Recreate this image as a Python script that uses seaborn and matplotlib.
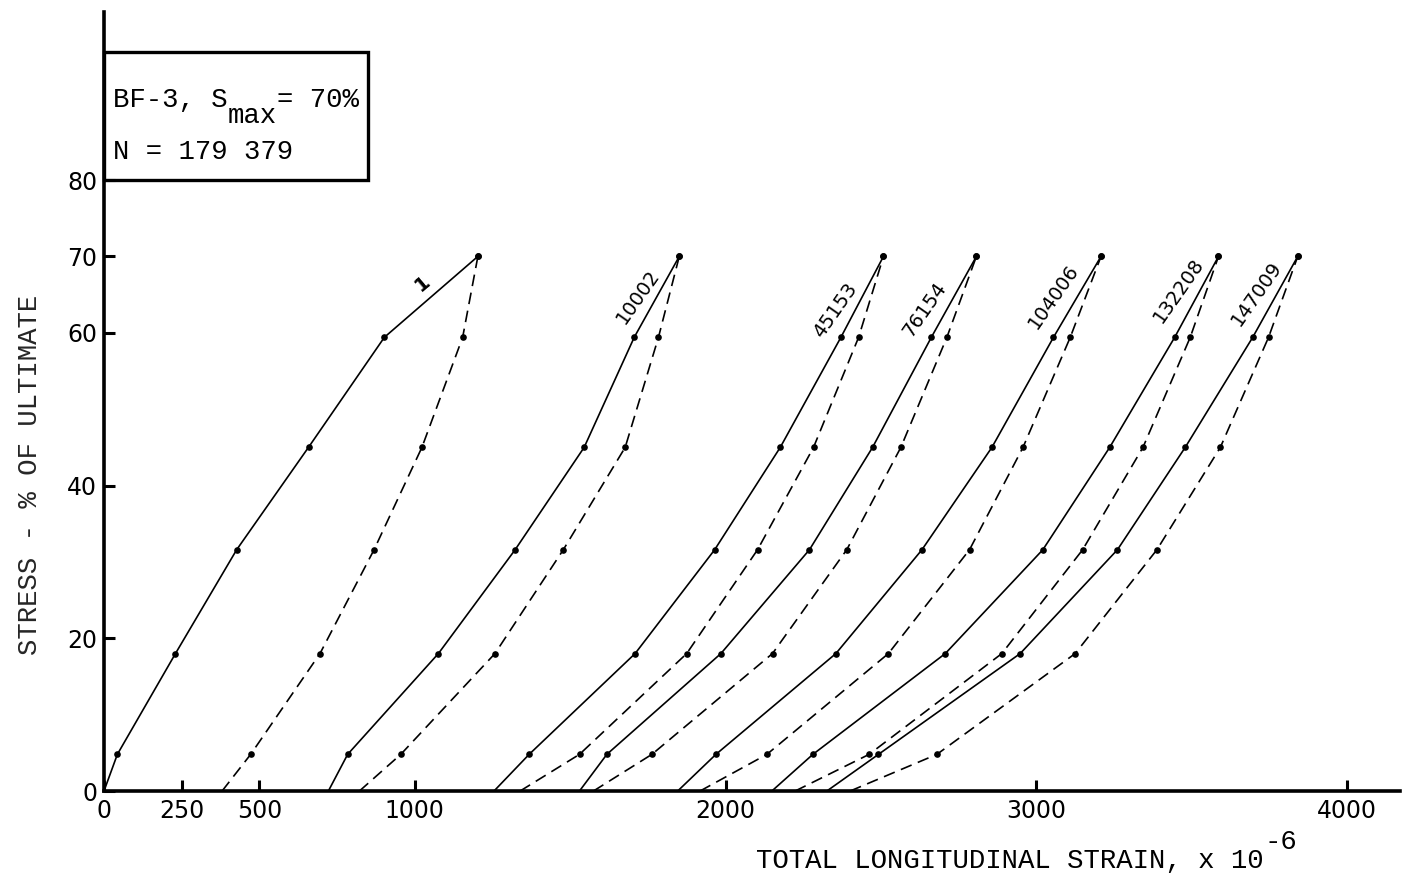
import matplotlib
matplotlib.use("Agg")
import matplotlib.pyplot as plt
import matplotlib.transforms as mtransforms
import seaborn as sns
from matplotlib.patches import Rectangle

# ---------------- data ----------------
stress = [0, 4.8, 18.0, 31.6, 45.0, 59.4, 70.0]          # % of ultimate

cycles = ["1", "10002", "45153", "76154", "104006", "132208", "147009"]

# loading branches (solid), strain x 1e-6 at each stress level
load_1      = [0, 43, 230, 427, 658, 902, 1203]
load_10002  = [722, 784, 1076, 1323, 1545, 1706, 1851]
load_45153  = [1255, 1368, 1709, 1965, 2176, 2371, 2508]
load_76154  = [1530, 1618, 1985, 2270, 2473, 2662, 2807]
load_104006 = [1846, 1969, 2355, 2632, 2857, 3055, 3208]
load_132208 = [2149, 2281, 2707, 3021, 3236, 3445, 3586]
load_147009 = [2326, 2492, 2948, 3261, 3479, 3696, 3841]

# unloading branches (dashed)
unload_1      = [380, 472, 695, 869, 1023, 1154, 1203]
unload_10002  = [822, 955, 1258, 1478, 1677, 1784, 1851]
unload_45153  = [1339, 1530, 1875, 2103, 2283, 2428, 2508]
unload_76154  = [1575, 1763, 2151, 2390, 2564, 2712, 2807]
unload_104006 = [1918, 2133, 2524, 2785, 2957, 3109, 3208]
unload_132208 = [2224, 2462, 2889, 3149, 3343, 3495, 3586]
unload_147009 = [2401, 2680, 3125, 3388, 3592, 3747, 3841]

x_ticks = [0, 250, 500, 1000, 2000, 3000, 4000]
y_ticks = [0, 20, 40, 60, 70, 80]

loads = [load_1, load_10002, load_45153, load_76154, load_104006, load_132208, load_147009]
unloads = [unload_1, unload_10002, unload_45153, unload_76154, unload_104006,
           unload_132208, unload_147009]

# ---------------- style ----------------
sns.set_style("ticks")
plt.rcParams["font.family"] = ["DejaVu Sans"]

MONO = "Liberation Mono"
FS = 19.7                 # typewriter text size (pt)
ADV = 0.6 * FS            # monospace advance per character (pt)

fig = plt.figure(figsize=(14.21, 8.88), dpi=100)
fig.patch.set_facecolor("white")
ax = fig.add_axes([104 / 1421, 97 / 888, 1296 / 1421, 779 / 888])
ax.set_facecolor("white")

line_kw = dict(color="black", linewidth=1.2, sort=False, estimator=None,
               marker="o", markersize=4.8, markeredgewidth=0,
               markevery=list(range(1, len(stress))))

for ld, ul in zip(loads, unloads):
    sns.lineplot(x=ld, y=stress, ax=ax, **line_kw)
    sns.lineplot(x=ul, y=stress, ax=ax, linestyle=(0, (7, 4)), **line_kw)

# cycle labels
label_pos = [(1026, 66.4, 40), (1719, 64.7, 55), (2353, 62.9, 55), (2642, 63.1, 55),
             (3054, 64.8, 55), (3457, 65.5, 55), (3708, 65.1, 55)]
for name, (lx, ly, rot) in zip(cycles, label_pos):
    ax.text(lx, ly, name, rotation=rot, ha="center", va="center",
            fontsize=14, color="black", rotation_mode="anchor",
            fontweight="medium" if name != "1" else "bold")

# info box
ax.add_patch(Rectangle((0, 80), 851, 16.7, fill=False, edgecolor="black",
                       linewidth=2.4, clip_on=False, zorder=5))


def mono_text(x, y, s, dx_chars=0.0, dy_pt=0.0, transform=None, **kw):
    base = transform if transform is not None else ax.transData
    tr = mtransforms.offset_copy(base, fig=fig, x=dx_chars * ADV, y=dy_pt,
                                 units="points")
    ax.text(x, y, s, transform=tr, fontsize=FS, family=MONO,
            va="baseline", ha="left", color="black", **kw)


mono_text(29, 89.6, "BF-3, S")
mono_text(29, 89.6, "max", dx_chars=7, dy_pt=-12)
mono_text(29, 89.6, "= 70%", dx_chars=10, dy_pt=0)
mono_text(29, 82.8, "N = 179 379")

# axes
ax.set_xlim(0, 4170)
ax.set_ylim(0, 102)
ax.set_xticks(x_ticks)
ax.set_xticklabels([str(v) for v in x_ticks])
ax.set_yticks(y_ticks)
ax.set_yticklabels([str(v) for v in y_ticks])
ax.tick_params(axis="both", direction="in", length=8, width=2.2,
               labelsize=17, colors="black")
ax.tick_params(axis="x", pad=6)
ax.tick_params(axis="y", pad=5)
for s in ["top", "right"]:
    ax.spines[s].set_visible(False)
for s in ["left", "bottom"]:
    ax.spines[s].set_linewidth(2.6)
    ax.spines[s].set_color("black")

ax.set_xlabel("")
ax.set_ylabel("")
xl = "TOTAL LONGITUDINAL STRAIN, x 10"
mono_text(0.503, -0.0988, xl, transform=ax.transAxes)
mono_text(0.503, -0.0988, "-6", dx_chars=len(xl), dy_pt=14, transform=ax.transAxes)
ax.text(-0.057, 0.406, "STRESS - % OF ULTIMATE", transform=ax.transAxes,
        rotation=90, ha="center", va="center", fontsize=FS, family=MONO)

fig.savefig("out.png", dpi=100, facecolor="white")
